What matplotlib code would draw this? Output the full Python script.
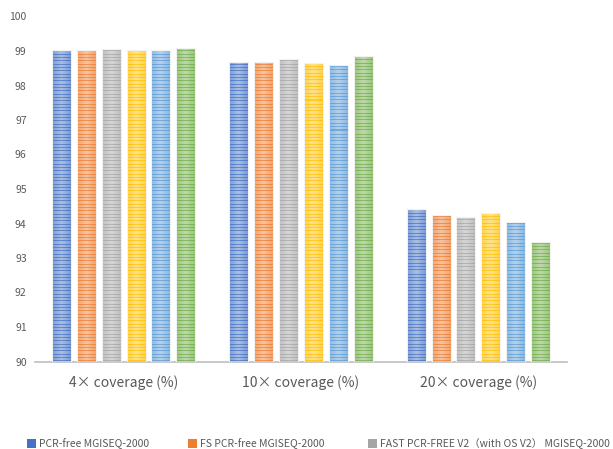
import numpy as np
import matplotlib
matplotlib.use("Agg")
import matplotlib.pyplot as plt
import matplotlib.patches as patches
from matplotlib.colors import to_rgb

plt.rcParams['font.family'] = ['Noto Sans CJK SC', 'DejaVu Sans']

categories = ['4× coverage (%)', '10× coverage (%)', '20× coverage (%)']
legend_labels = ['PCR-free MGISEQ-2000', 'FS PCR-free MGISEQ-2000',
                 'FAST PCR-FREE V2（with OS V2） MGISEQ-2000']

pcr_free = [99.03, 98.69, 94.41]
fs_pcr_free = [99.03, 98.69, 94.24]
fast_v2 = [99.06, 98.77, 94.18]
series_4 = [99.03, 98.65, 94.30]
series_5 = [99.03, 98.59, 94.04]
series_6 = [99.09, 98.85, 93.46]
series = [pcr_free, fs_pcr_free, fast_v2, series_4, series_5, series_6]

colors = ['#4472C4', '#ED7D31', '#A5A5A5', '#FFC000', '#5B9BD5', '#70AD47']
ymin, ymax = 90, 100
text_c = '#595959'

fig = plt.figure(figsize=(6.13, 4.49), dpi=100)
ax = fig.add_axes([35 / 613, 87.5 / 449, 532 / 613, 345 / 449])


def striped(color, rows=345, cols=24):
    # horizontal stripes, lighter towards the middle of the bar
    base = np.array(to_rgb(color))
    r = np.arange(rows)
    dark = ((r * 7) % 10) < 3
    g = 1 - np.abs(np.linspace(-1, 1, cols))
    w = np.where(dark[:, None], 0.06 + 0.12 * g[None, :], 0.3 + 0.25 * g[None, :])
    return base[None, None, :] * (1 - w[..., None]) + w[..., None]


x = np.arange(len(categories))
step = 0.14
width = 0.107
for k, vals in enumerate(series):
    pos = x + (k - 2.5) * step
    bars = ax.bar(pos, np.array(vals) - ymin, bottom=ymin, width=width,
                  color=colors[k], zorder=2)
    tex = striped(colors[k])
    for p in bars:
        x0 = p.get_x()
        im = ax.imshow(tex, extent=(x0, x0 + p.get_width(), ymin, ymax),
                       origin='lower', aspect='auto', interpolation='nearest',
                       zorder=2.5)
        im.set_clip_path(p)
        p.set_facecolor('none')
        p.set_edgecolor('#F2F2F2')
        p.set_linewidth(0.8)
        p.set_zorder(3)

ax.set_xlim(-0.5, len(categories) - 0.5)
ax.set_ylim(ymin, ymax)
ax.set_yticks(np.arange(ymin, ymax + 1, 1))
ax.set_xticks(x)
ax.set_xticklabels(categories, fontsize=10, color=text_c)
ax.tick_params(axis='y', length=0, pad=6, labelsize=7.5, labelcolor=text_c)
ax.tick_params(axis='x', length=0, pad=10)
for s in ['top', 'right', 'left']:
    ax.spines[s].set_visible(False)
ax.spines['bottom'].set_color('#BFBFBF')
ax.spines['bottom'].set_linewidth(1.2)

# legend row along the bottom edge
leg_x = [27, 188, 368]
for k, lab in enumerate(legend_labels):
    fig.patches.append(patches.Rectangle(
        (leg_x[k] / 613, (449 - 448) / 449), 9 / 613, 9 / 449,
        transform=fig.transFigure, facecolor=colors[k], edgecolor='none'))
    fig.text((leg_x[k] + 12) / 613, (449 - 443.5) / 449, lab,
             fontsize=7.5, color=text_c, va='center', ha='left')

fig.savefig('out.png', dpi=100)
